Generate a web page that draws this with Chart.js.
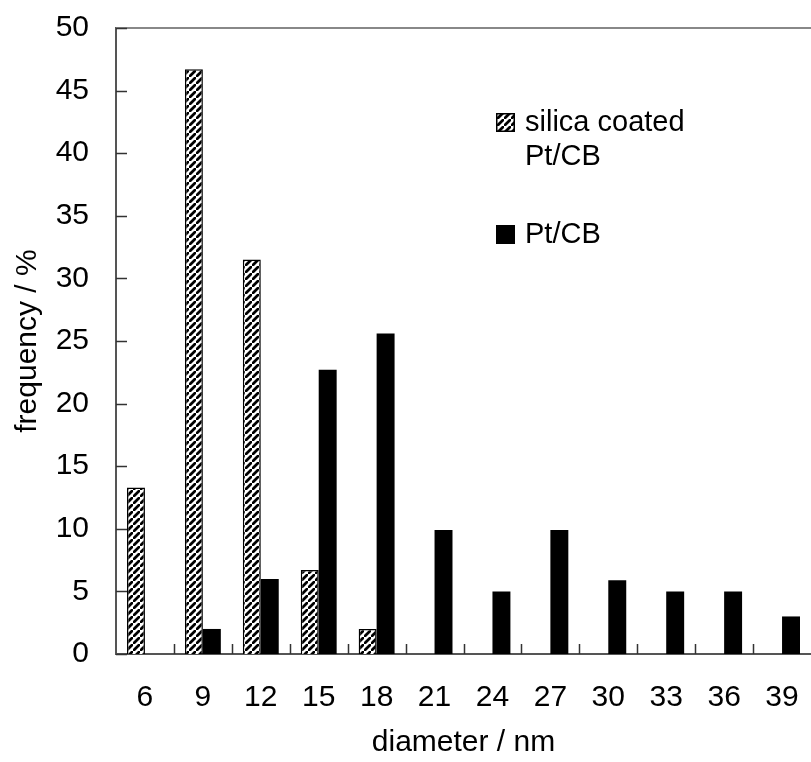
<!DOCTYPE html>
<html>
<head>
<meta charset="utf-8">
<script src="https://cdn.jsdelivr.net/npm/chart.js@4.4.1/dist/chart.umd.min.js"></script>
<style>
html,body{margin:0;padding:0;background:#fff}
</style>
</head>
<body>
<canvas id="myChart" width="811" height="762"></canvas>
<script>
// diameter classes (nm) and frequency (%)
const diameters = ['6','9','12','15','18','21','24','27','30','33','36','39'];
const silicaCoated = [13.3, 46.7, 31.5, 6.7, 2.0, null, null, null, null, null, null, null];
const ptCB = [null, 2.0, 6.0, 22.7, 25.6, 9.9, 5.0, 9.9, 5.9, 5.0, 5.0, 3.0];
const yTicks = [0, 5, 10, 15, 20, 25, 30, 35, 40, 45, 50];
const legendSilica = ['silica coated', 'Pt/CB'];
const legendPt = ['Pt/CB'];

const FONT = '"Liberation Sans", Arial, sans-serif';
const ctx = document.getElementById('myChart');
const c2d = ctx.getContext('2d');

function makeHatch(){
  const n = 7;
  const t = document.createElement('canvas');
  t.width = n; t.height = n;
  const g = t.getContext('2d');
  g.fillStyle = '#fff';
  g.fillRect(0, 0, n, n);
  g.strokeStyle = '#000';
  g.lineWidth = 2.8;
  g.beginPath();
  g.moveTo(-1, n + 1); g.lineTo(n + 1, -1);
  g.moveTo(-n - 1, 1); g.lineTo(1, -n - 1);
  g.moveTo(n - 1, 2 * n + 1); g.lineTo(2 * n + 1, n - 1);
  g.stroke();
  return c2d.createPattern(t, 'repeat');
}
const hatch = makeHatch();

// top frame line + inward tick marks
const framePlugin = {
  id: 'frame',
  afterDraw(chart){
    const {ctx, chartArea: a, scales: {x, y}} = chart;
    ctx.save();
    ctx.strokeStyle = '#888';
    ctx.lineWidth = 2;
    ctx.beginPath();
    ctx.moveTo(a.left, a.top);
    ctx.lineTo(a.right, a.top);
    ctx.stroke();
    ctx.strokeStyle = '#333';
    ctx.lineWidth = 1.5;
    ctx.beginPath();
    yTicks.forEach(v => {
      const py = Math.round(y.getPixelForValue(v)) + 0.5;
      ctx.moveTo(a.left, py);
      ctx.lineTo(a.left + 11, py);
    });
    for (let i = 1; i < diameters.length; i++) {
      const px = Math.round((x.getPixelForValue(i - 1) + x.getPixelForValue(i)) / 2) + 0.5;
      ctx.moveTo(px, a.bottom);
      ctx.lineTo(px, a.bottom - 10);
    }
    ctx.stroke();
    ctx.restore();
  }
};

const legendPlugin = {
  id: 'sideLegend',
  afterDraw(chart){
    const {ctx, chartArea: a} = chart;
    const bx = a.left + 380, tx = a.left + 409;
    ctx.save();
    ctx.font = '29px ' + FONT;
    ctx.textBaseline = 'middle';
    ctx.fillStyle = hatch;
    ctx.fillRect(bx, 113, 19, 19);
    ctx.strokeStyle = '#000';
    ctx.lineWidth = 1.5;
    ctx.strokeRect(bx + 0.75, 113.75, 17.5, 17.5);
    ctx.fillStyle = '#000';
    legendSilica.forEach((s, i) => ctx.fillText(s, tx, 123 + i * 34));
    ctx.fillRect(bx, 225, 19, 19);
    legendPt.forEach((s, i) => ctx.fillText(s, tx, 235 + i * 34));
    ctx.restore();
  }
};

new Chart(ctx, {
  type: 'bar',
  data: {
    labels: diameters,
    datasets: [{
      label: 'silica coated Pt/CB',
      data: silicaCoated,
      backgroundColor: hatch,
      borderColor: '#000',
      borderWidth: 1.5,
      borderSkipped: 'bottom'
    }, {
      label: 'Pt/CB',
      data: ptCB,
      backgroundColor: '#000',
      borderWidth: 0
    }]
  },
  options: {
    responsive: false,
    animation: false,
    categoryPercentage: 0.62,
    barPercentage: 1,
    layout: {padding: {top: 28, right: 0, left: 0, bottom: 0}},
    plugins: {legend: {display: false}, tooltip: {enabled: false}},
    scales: {
      x: {
        grid: {display: false, drawTicks: false},
        border: {display: true, color: '#555', width: 2},
        ticks: {color: '#000', font: {family: FONT, size: 30}, padding: 26, maxRotation: 0, autoSkip: false},
        title: {display: true, text: 'diameter / nm', color: '#000', font: {family: FONT, size: 30}, padding: {top: 0, bottom: 1}},
        afterFit(s){ s.height = 108; s.paddingLeft = 0; s.paddingRight = 0; }
      },
      y: {
        min: 0, max: 50,
        grid: {display: false, drawTicks: false},
        border: {display: true, color: '#555', width: 2},
        afterBuildTicks(s){ s.ticks = yTicks.map(v => ({value: v})); },
        ticks: {color: '#000', font: {family: FONT, size: 30}, padding: 27},
        title: {display: true, text: 'frequency / %', color: '#000', font: {family: FONT, size: 30}, padding: {top: 10, bottom: 0}},
        afterFit(s){ s.width = 116; s.paddingTop = 0; s.paddingBottom = 0; }
      }
    }
  },
  plugins: [framePlugin, legendPlugin]
});
</script>
</body>
</html>
